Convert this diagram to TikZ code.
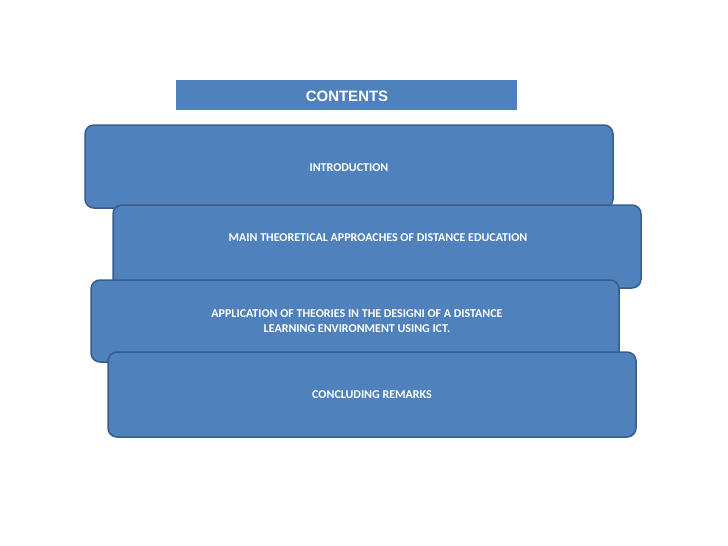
\documentclass[tikz,border=0pt]{standalone}
\usepackage{fontspec}
\setmainfont{Carlito}
\newfontfamily\arialf{Liberation Sans}
\definecolor{fillb}{HTML}{4F81BD}
\definecolor{edgeb}{HTML}{385D8A}
\begin{document}
\begin{tikzpicture}[x=1pt,y=-1pt,
  card/.style={draw=edgeb,line width=1.5pt,fill=fillb,rounded corners=9pt},
  lbl/.style={text=white,font=\bfseries\fontsize{12}{15}\selectfont,align=center}]
\useasboundingbox (0,0) rectangle (728,546);
\fill[fillb] (176,80) rectangle (517,110);
\node[text=white,font=\arialf\bfseries\fontsize{15}{18}\selectfont] (hdr) at (347,96) {CONTENTS};
\draw[card] (85,125) rectangle (613,208);
\node[lbl] (intro) at (349,168) {INTRODUCTION};
\draw[card] (113,205) rectangle (641,288);
\node[lbl] (main) at (378,238) {MAIN THEORETICAL APPROACHES OF DISTANCE EDUCATION};
\draw[card] (91,280) rectangle (619,362);
\node[lbl] (app) at (357,321) {APPLICATION OF THEORIES IN THE DESIGNI OF A DISTANCE\\LEARNING ENVIRONMENT USING ICT.};
\draw[card] (108,352) rectangle (636,437);
\node[lbl] (conc) at (372,395) {CONCLUDING REMARKS};
\end{tikzpicture}
\end{document}
